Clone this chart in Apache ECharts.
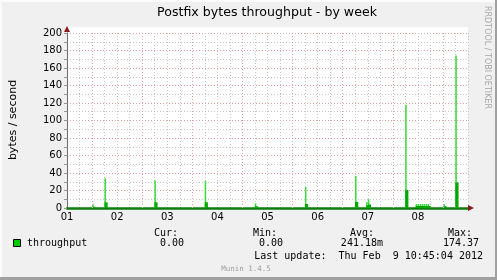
<!DOCTYPE html>
<html>
<head>
<meta charset="utf-8">
<script src="https://cdn.jsdelivr.net/npm/echarts@6/dist/echarts.min.js"></script>
<style>
html,body{margin:0;padding:0;background:#f0f0f0;}
#c{width:497px;height:280px;}
</style>
</head>
<body>
<div id="c"></div>
<script>
// ---- data ----
const dayLabels = ['01','02','03','04','05','06','07','08'];
const yTickValues = [0,20,40,60,80,100,120,140,160,180,200];
// major (red) vertical grid lines, hours since day 01 00:00
const majorGridHours = [12, 36, 60, 84, 108, 132, 156, 180];
// event times (hours since day 01 00:00)
const eventHours = [12.8, 18.7, 42.6, 66.7, 90.7, 114.7, 138.7, 144.0, 144.8, 162.7, 167.7, 168.6, 169.6, 170.6, 171.5, 172.5, 173.4, 181.0, 186.7];
// peak (max) values, bytes/second
const peakValues = [4.6, 34, 31.6, 30.9, 5.3, 24, 36.6, 7, 10, 117.7, 4.6, 4.6, 4.6, 4.6, 4.6, 4.6, 4.6, 4.6, 174.37];
// averaged values, bytes/second
const avgValues = [1.5, 6.5, 6.5, 6.5, 2, 4.6, 6.9, 3, 4, 20.6, 2.3, 2.3, 2.3, 2.3, 2.3, 2.3, 2.3, 2, 29.3];
const legendName = 'throughput';
const statHeads = ['Cur:', 'Min:', 'Avg:', 'Max:'];
const statValues = ['0.00', '0.00', '241.18m', '174.37'];
const lastUpdate = 'Last update:  Thu Feb  9 10:45:04 2012';

const chart = echarts.init(document.getElementById('c'), null, {renderer:'canvas'});
const grey = '#c8c8c8', red = '#e6a3a3';
const mono = '"DejaVu Sans Mono", monospace';
const sans = '"DejaVu Sans", sans-serif';

const gl = 67, gt = 33, gw = 401, gh = 175;

const headX = [154, 253, 350, 448];
const valRight = [184, 283, 383, 479];
const graphics = [
  // 3D frame
  {type:'rect', shape:{x:0,y:0,width:497,height:280}, style:{fill:'#f0f0f0'}, z:-20, silent:true},
  {type:'rect', shape:{x:0,y:0,width:497,height:2}, style:{fill:'#fbfbfb'}, z:-19},
  {type:'rect', shape:{x:0,y:0,width:2,height:280}, style:{fill:'#fbfbfb'}, z:-19},
  {type:'rect', shape:{x:495,y:0,width:2,height:280}, style:{fill:'#a0a0a0'}, z:-19},
  {type:'rect', shape:{x:0,y:277,width:497,height:3}, style:{fill:'#a0a0a0'}, z:-19},
  // plot background
  {type:'rect', shape:{x:gl,y:27,width:gw,height:gh+6}, style:{fill:'#ffffff'}, z:-10},
  // title
  {type:'text', x:267, y:6, style:{text:'Postfix bytes throughput - by week', font:'12.6px '+sans, fill:'#000', textAlign:'center'}},
  // rrdtool credit
  {type:'text', x:491, y:6, rotation:-Math.PI/2, style:{text:'RRDTOOL / TOBI OETIKER', font:'8px '+sans, fill:'#a8a8a8', textAlign:'left', textVerticalAlign:'top'}},
  // y axis name
  {type:'text', x:8, y:120, rotation:Math.PI/2, style:{text:'bytes / second', font:'11px '+sans, fill:'#000', textAlign:'center', textVerticalAlign:'top'}},
  // arrows
  {type:'polygon', shape:{points:[[gl,26],[gl-3,32],[gl+3,32]]}, style:{fill:'#8b1a1a'}, z:10},
  {type:'polygon', shape:{points:[[474,gt+gh],[468,gt+gh-3],[468,gt+gh+3]]}, style:{fill:'#8b1a1a'}, z:10},
  // legend
  {type:'rect', shape:{x:13.5,y:239.5,width:7,height:7}, style:{fill:'#00cc00', stroke:'#000', lineWidth:1}},
  {type:'text', x:27, y:238, style:{text:legendName, font:'10px '+mono, fill:'#000'}},
  {type:'text', x:483, y:251, style:{text:lastUpdate, font:'10px '+mono, fill:'#000', textAlign:'right'}},
  {type:'text', x:246, y:265, style:{text:'Munin 1.4.5', font:'7.5px '+mono, fill:'#a0a0a0', textAlign:'center'}}
];
statHeads.forEach((h,i)=>{
  graphics.push({type:'text', x:headX[i], y:228, style:{text:h, font:'10px '+mono, fill:'#000'}});
  graphics.push({type:'text', x:valRight[i], y:238, style:{text:statValues[i], font:'10px '+mono, fill:'#000', textAlign:'right'}});
});

const option = {
  animation:false,
  backgroundColor:'#f0f0f0',
  grid:{left:gl, top:gt, width:gw, height:gh, containLabel:false},
  xAxis:{
    type:'value', min:0, max:192, interval:6,
    axisLine:{show:true, onZero:false, lineStyle:{color:'#0b7d0b', width:2.5}},
    axisTick:{show:false},
    axisLabel:{margin:4, color:'#000', fontFamily:sans, fontSize:10,
      formatter:v => (v%24===0 && v<192) ? dayLabels[v/24] : ''},
    splitLine:{show:true, lineStyle:{color:grey, type:[1,2], width:1}}
  },
  yAxis:{
    type:'value', min:0, max:200, interval:10,
    axisLine:{show:true, lineStyle:{color:'#6e6e6e', width:1}},
    axisTick:{show:true, length:3, lineStyle:{color:'#999'}},
    axisLabel:{margin:5, color:'#000', fontFamily:sans, fontSize:10,
      formatter:v => yTickValues.indexOf(v)>=0 ? String(v) : ''},
    splitLine:{show:true, lineStyle:{color:[red,grey], type:[1,2], width:1}}
  },
  graphic:graphics,
  series:[
    {type:'line', name:'grid', data:[], z:1, silent:true,
     markLine:{silent:true, symbol:['none','none'], label:{show:false},
       lineStyle:{color:red, type:[1,2], width:1},
       data:majorGridHours.map(h=>({xAxis:h}))}},
    {type:'bar', name:'max', data:eventHours.map((h,i)=>[h,peakValues[i]]), barWidth:1.5, barGap:'-100%',
     itemStyle:{color:'#35dd35'}, silent:true},
    {type:'bar', name:'avg', data:eventHours.map((h,i)=>[h,avgValues[i]]), barWidth:3.2, barGap:'-100%',
     itemStyle:{color:'#00a800'}, silent:true}
  ]
};
chart.setOption(option);
</script>
</body>
</html>
